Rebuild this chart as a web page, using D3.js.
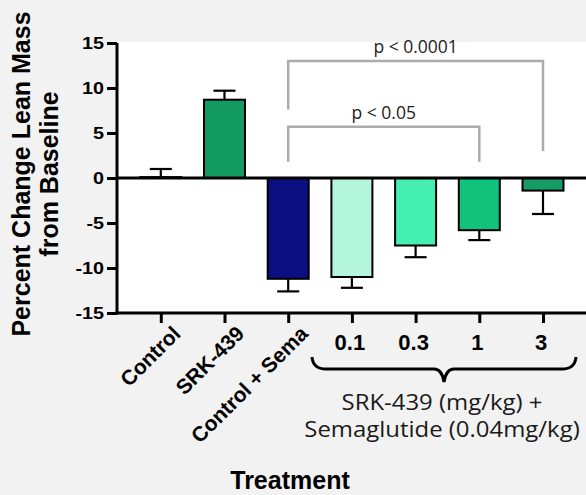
<!DOCTYPE html>
<html><head><meta charset="utf-8">
<script src="https://cdn.jsdelivr.net/npm/d3@7"></script>
<style>html,body{margin:0;padding:0;background:#f2f2f2;}svg{display:block;}</style>
</head><body>
<svg id="chart" width="586" height="495"></svg>
<script>
const categories = ["Control","SRK-439","Control + Sema","0.1","0.3","1","3"];
const means = [0.1, 8.7, -11.2, -11.0, -7.5, -5.8, -1.4];
const errors = [0.9, 1.0, 1.4, 1.2, 1.3, 1.1, 2.6];
const colors = ["#ffffff","#139a62","#0b0f82","#b3f5dd","#45efb2","#10c27b","#169b64"];
const yTicks = [-15,-10,-5,0,5,10,15];
const brackets = [
  {from:"Control + Sema", to:"3", label:"p < 0.0001", top:13.0, leftEnd:7.6, rightEnd:3.0},
  {from:"Control + Sema", to:"1", label:"p < 0.05", top:5.7, leftEnd:1.8, rightEnd:1.8}
];
const groupLabel = ["SRK-439 (mg/kg) +","Semaglutide (0.04mg/kg)"];
const rotated = ["Control","SRK-439","Control + Sema"];

const svg = d3.select("#chart");
const axisX = 117, plotTop = 42, plotBottom = 313;
const y = d3.scaleLinear().domain([-15,15]).range([313,43]);
const x = d3.scalePoint().domain(categories).range([160.8,543]);
const barW = 41;

svg.append("rect").attr("x",0).attr("y",0).attr("width",586).attr("height",495).attr("fill","#f2f2f2");
svg.append("rect").attr("x",axisX).attr("y",plotTop).attr("width",586-axisX).attr("height",plotBottom-plotTop).attr("fill","#ffffff");

// bars
svg.selectAll("rect.bar").data(categories).join("rect").attr("class","bar")
  .attr("x",d=>x(d)-barW/2)
  .attr("y",(d,i)=>y(Math.max(0,means[i])))
  .attr("width",barW)
  .attr("height",(d,i)=>Math.abs(y(means[i])-y(0)))
  .attr("fill",(d,i)=>colors[i])
  .attr("stroke","#000").attr("stroke-width",2);

// error bars (one-sided)
const eb = svg.append("g").attr("stroke","#000").attr("stroke-width",2.2);
categories.forEach((c,i)=>{
  const s = means[i]>=0?1:-1;
  const tip = means[i]+s*errors[i];
  eb.append("line").attr("x1",x(c)).attr("x2",x(c)).attr("y1",y(means[i])).attr("y2",y(tip));
  eb.append("line").attr("x1",x(c)-11).attr("x2",x(c)+11).attr("y1",y(tip)).attr("y2",y(tip));
});

// zero line
svg.append("line").attr("x1",axisX).attr("x2",586).attr("y1",y(0)).attr("y2",y(0)).attr("stroke","#000").attr("stroke-width",3);

// y axis
const yAxis = svg.append("g").attr("transform",`translate(${axisX},0)`)
  .call(d3.axisLeft(y).tickValues(yTicks).tickSize(10).tickPadding(3).tickFormat(d3.format("d")));
yAxis.select(".domain").attr("stroke","#000").attr("stroke-width",3).attr("d",`M0,${y(15)}V${y(-15)+1.5}`);
yAxis.selectAll(".tick line").attr("stroke","#000").attr("stroke-width",3);
yAxis.selectAll(".tick text").attr("font-family","Liberation Sans, Arial, sans-serif").attr("font-weight","bold")
  .attr("font-size",16.5).attr("fill","#000").attr("x",0).attr("dy","0.36em")
  .attr("transform","translate(-13,0) scale(1.2,1)");
yAxis.selectAll(".tick text").text(d=>d<0?"-"+Math.abs(d):d);

// x axis
const xAxis = svg.append("g").attr("transform",`translate(0,${plotBottom})`)
  .call(d3.axisBottom(x).tickSize(10).tickFormat(""));
xAxis.select(".domain").attr("stroke","#000").attr("stroke-width",3).attr("d",`M${axisX-1.5},0H586`);
xAxis.selectAll(".tick line").attr("stroke","#000").attr("stroke-width",3);

// x labels
categories.forEach((c,i)=>{
  if (rotated.includes(c)) {
    svg.append("text").attr("transform",`translate(${x(c)+21},${335}) rotate(-45)`)
      .attr("text-anchor","end").attr("font-family","Liberation Sans, Arial, sans-serif")
      .attr("font-weight","bold").attr("font-size",21).attr("fill","#000").text(c);
  } else {
    svg.append("text").attr("x",x(c)-2).attr("y",350).attr("text-anchor","middle")
      .attr("font-family","Liberation Sans, Arial, sans-serif").attr("font-weight","bold")
      .attr("font-size",22).attr("fill","#000").text(c);
  }
});

// brace
const bx0 = 312, bx1 = 576, bmid = (bx0+bx1)/2, by0 = 357, by1 = 369, btip = 382;
svg.append("path").attr("fill","none").attr("stroke","#000").attr("stroke-width",3)
  .attr("d",`M${bx0},${by0} Q${bx0+1},${by1} ${bx0+14},${by1} L${bmid-10},${by1} Q${bmid-2},${by1} ${bmid},${btip} Q${bmid+2},${by1} ${bmid+10},${by1} L${bx1-14},${by1} Q${bx1-1},${by1} ${bx1},${by0}`);

groupLabel.forEach((t,i)=>{
  svg.append("text").attr("text-anchor","middle").attr("font-family","Open Sans, sans-serif")
    .attr("font-size",21).attr("fill","#1a1a1a")
    .attr("transform",`translate(${bmid-2},${410+i*27}) scale(1.14,1)`)
    .attr("x",0).attr("y",0).text(t);
});

// significance brackets
brackets.forEach(b=>{
  const xa = x(b.from), xb = x(b.to);
  svg.append("path").attr("fill","none").attr("stroke","#ababab").attr("stroke-width",2.5)
    .attr("d",`M${xa},${y(b.leftEnd)} V${y(b.top)} H${xb} V${y(b.rightEnd)}`);
  svg.append("text").attr("x",(xa+xb)/2).attr("y",y(b.top)-8).attr("text-anchor","middle")
    .attr("font-family","Open Sans, sans-serif").attr("font-size",17.5).attr("fill","#222").text(b.label);
});

// axis titles
const yt = svg.append("text").attr("transform","translate(0,174) rotate(-90)").attr("text-anchor","middle")
  .attr("font-family","Liberation Sans, Arial, sans-serif").attr("font-weight","bold").attr("font-size",25).attr("fill","#000");
yt.append("tspan").attr("x",0).attr("y",30).text("Percent Change Lean Mass");
yt.append("tspan").attr("x",0).attr("y",58).text("from Baseline");

svg.append("text").attr("x",290).attr("y",489).attr("text-anchor","middle")
  .attr("font-family","Liberation Sans, Arial, sans-serif").attr("font-weight","bold").attr("font-size",25).attr("fill","#000").text("Treatment");
</script>
</body></html>
